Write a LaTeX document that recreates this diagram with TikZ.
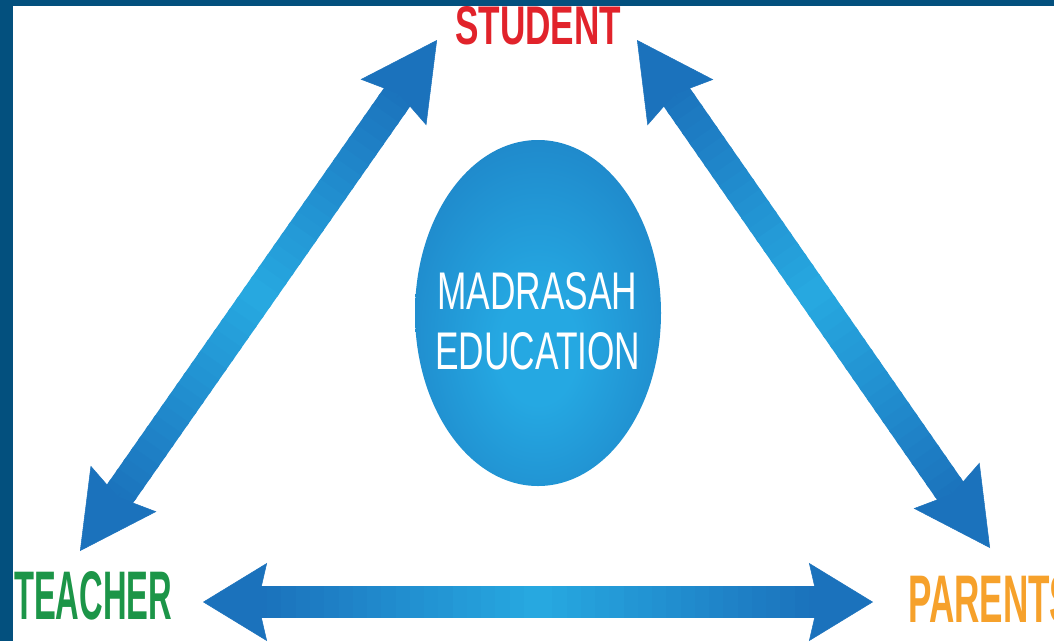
\documentclass[tikz,border=0pt]{standalone}
\usepackage{fontspec}
\setmainfont{Liberation Sans}
\usetikzlibrary{arrows.meta,calc,shapes.geometric}
\definecolor{frameblue}{HTML}{03507E}
\definecolor{adark}{HTML}{1B72BC}
\definecolor{alight}{HTML}{27A9E1}
\definecolor{edark}{HTML}{1A6DB6}
\definecolor{elight}{HTML}{25A8E2}
\definecolor{sred}{HTML}{E1232B}
\definecolor{tgreen}{HTML}{1C9548}
\definecolor{porange}{HTML}{F6A12B}
\pgfdeclareradialshading{ellshade}{\pgfpoint{0bp}{-6bp}}{color(0bp)=(elight); color(8bp)=(elight); color(48bp)=(edark); color(60bp)=(edark)}
\newcommand\gradshaft[2]{%
  \coordinate (sa) at ($(#1)!50pt!(#2)$);
  \coordinate (sb) at ($(#2)!50pt!(#1)$);
  \foreach \i in {0,...,39} {
    \pgfmathsetmacro\ta{\i/40}
    \pgfmathsetmacro\tb{(\i+1.3)/40}
    \pgfmathtruncatemacro\mix{min(100,abs((\i+0.5)/40-0.5)*210)}
    \draw[shaftline, color=adark!\mix!alight] ($(sa)!\ta!(sb)$) -- ($(sa)!\tb!(sb)$);
  }
}
\tikzset{
  shaftline/.style={line width=32pt},
  diaghead/.style={draw=adark, line width=0.5pt,
    arrows={-Stealth[length=76pt,width=80pt,inset=10pt]}},
  horhead/.style={draw=adark, line width=0.5pt,
    arrows={-Stealth[length=64pt,width=78pt,inset=9pt]}},
  label/.style={anchor=south west, inner sep=0pt, font=\bfseries},
  centertext/.style={anchor=south west, inner sep=0pt, text=white}
}
\begin{document}
\begin{tikzpicture}[x=1pt,y=-1pt]
\useasboundingbox (0,0) rectangle (1054,641);
\clip (0,0) rectangle (1054,641);
\fill[white] (0,0) rectangle (1054,641);

% centre ellipse
\node[ellipse, minimum width=246pt, minimum height=346pt, inner sep=0pt,
      shade, shading=ellshade] (edu) at (538,313) {};
\node[centertext] (m1) at (437,310) {\resizebox{200pt}{37pt}{MADRASAH}};
\node[centertext] (m2) at (435,370) {\resizebox{205pt}{37pt}{EDUCATION}};

% labels
\node[label, text=sred] (st) at (455,45) {\resizebox{166pt}{38pt}{STUDENT}};
\node[label, text=tgreen] (te) at (14,620) {\resizebox{158pt}{48pt}{TEACHER}};
\node[label, text=porange] (pa) at (908,623) {\resizebox{165pt}{47pt}{PARENTS}};

% arrow ends
\coordinate (tsS) at (437,40);
\coordinate (tsT) at (80,551);
\coordinate (spS) at (637,40);
\coordinate (spP) at (990,548);
\coordinate (tpT) at (203,602);
\coordinate (tpP) at (873,602);

% arrows: gradient shafts, then solid heads
\gradshaft{tsS}{tsT}
\draw[diaghead] ($(tsS)!70pt!(tsT)$) -- (tsS);
\draw[diaghead] ($(tsT)!70pt!(tsS)$) -- (tsT);
\gradshaft{spS}{spP}
\draw[diaghead] ($(spS)!70pt!(spP)$) -- (spS);
\draw[diaghead] ($(spP)!70pt!(spS)$) -- (spP);
\gradshaft{tpT}{tpP}
\draw[horhead] ($(tpT)!60pt!(tpP)$) -- (tpT);
\draw[horhead] ($(tpP)!60pt!(tpT)$) -- (tpP);

% frame
\fill[frameblue] (0,0) rectangle (1054,6);
\fill[frameblue] (0,0) rectangle (13,641);
\end{tikzpicture}
\end{document}
